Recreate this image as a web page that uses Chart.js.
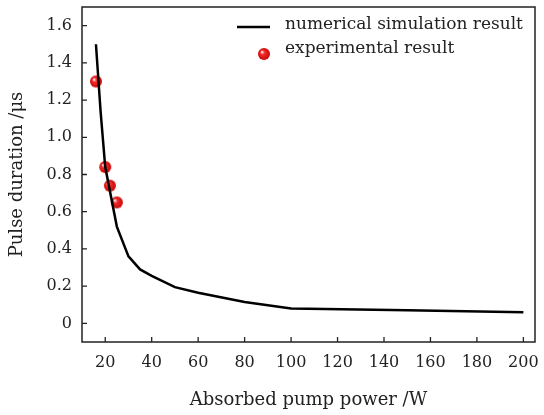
<!DOCTYPE html>
<html>
<head>
<meta charset="utf-8">
<script src="https://cdn.jsdelivr.net/npm/chart.js@4"></script>
<style>
  html, body { margin: 0; padding: 0; background: #fff; }
  #wrap { width: 544px; height: 415px; }
</style>
</head>
<body>
<div id="wrap"><canvas id="chart" width="544" height="415"></canvas></div>
<script>
// ---- data ----
const simPower = [16, 18, 20, 25, 30, 35, 40, 50, 60, 80, 100, 150, 200];
const simDuration = [1.50, 1.14, 0.84, 0.52, 0.36, 0.29, 0.255, 0.195, 0.165, 0.115, 0.08, 0.07, 0.06];
const expPower = [16, 20, 22, 25];
const expDuration = [1.30, 0.84, 0.74, 0.65];
const xTicks = [20, 40, 60, 80, 100, 120, 140, 160, 180, 200];
const yTicks = [0, 0.2, 0.4, 0.6, 0.8, 1.0, 1.2, 1.4, 1.6];
const seriesNames = ["numerical simulation result", "experimental result"];

const FONT = "'DejaVu Serif', serif";
const INK = "#222";

// shaded red ball used as point marker
function makeBall(r) {
  const c = document.createElement("canvas");
  c.width = c.height = r * 2 + 2;
  const g = c.getContext("2d");
  const cx = r + 1, cy = r + 1;
  const grad = g.createRadialGradient(cx - r * 0.35, cy - r * 0.35, r * 0.1, cx, cy, r);
  grad.addColorStop(0, "#ffd6d6");
  grad.addColorStop(0.3, "#f22a2a");
  grad.addColorStop(1, "#c80808");
  g.fillStyle = grad;
  g.beginPath();
  g.arc(cx, cy, r, 0, Math.PI * 2);
  g.fill();
  return c;
}
const ball = makeBall(6);

// frame box, inward ticks and legend
const framePlugin = {
  id: "frame",
  afterDraw(chart) {
    const { ctx, chartArea: a, scales } = chart;
    ctx.save();
    ctx.strokeStyle = INK;
    ctx.lineWidth = 1.5;
    ctx.strokeRect(a.left, a.top, a.right - a.left, a.bottom - a.top);
    ctx.lineWidth = 1.3;
    ctx.beginPath();
    xTicks.forEach(v => {
      const x = scales.x.getPixelForValue(v);
      ctx.moveTo(x, a.bottom);
      ctx.lineTo(x, a.bottom - 5);
    });
    yTicks.forEach(v => {
      const y = scales.y.getPixelForValue(v);
      ctx.moveTo(a.left, y);
      ctx.lineTo(a.left + 5, y);
    });
    ctx.stroke();

    // legend
    ctx.font = "17px " + FONT;
    ctx.fillStyle = INK;
    ctx.textBaseline = "middle";
    ctx.strokeStyle = "#000";
    ctx.lineWidth = 2.5;
    ctx.beginPath();
    ctx.moveTo(237, 27);
    ctx.lineTo(270, 27);
    ctx.stroke();
    ctx.fillText(seriesNames[0], 285, 25);
    ctx.drawImage(ball, 264 - 7, 54 - 7);
    ctx.fillText(seriesNames[1], 285, 49);
    ctx.restore();
  }
};

new Chart(document.getElementById("chart"), {
  type: "scatter",
  data: {
    datasets: [
      {
        label: seriesNames[0],
        data: simPower.map((p, i) => ({ x: p, y: simDuration[i] })),
        showLine: true,
        borderColor: "#000",
        borderWidth: 2.5,
        pointRadius: 0,
        tension: 0
      },
      {
        label: seriesNames[1],
        data: expPower.map((p, i) => ({ x: p, y: expDuration[i] })),
        showLine: false,
        pointStyle: ball,
        pointRadius: 6
      }
    ]
  },
  options: {
    responsive: false,
    animation: false,
    layout: { padding: { top: 7, right: 9, left: 0, bottom: 0 } },
    plugins: { legend: { display: false }, tooltip: { enabled: false } },
    scales: {
      x: {
        type: "linear",
        min: 10,
        max: 205,
        afterBuildTicks: s => { s.ticks = xTicks.map(v => ({ value: v })); },
        afterFit: s => { s.height = 73; s.paddingLeft = 0; s.paddingRight = 0; },
        grid: { display: false, drawTicks: false },
        border: { display: false },
        ticks: { color: INK, font: { family: FONT, size: 16 }, padding: 11, maxRotation: 0 },
        title: {
          display: true,
          text: "Absorbed pump power /W",
          color: INK,
          font: { family: FONT, size: 18 },
          padding: { top: 11 }
        }
      },
      y: {
        min: -0.1,
        max: 1.7,
        afterBuildTicks: s => { s.ticks = yTicks.map(v => ({ value: v })); },
        afterFit: s => { s.width = 82; s.paddingTop = 0; s.paddingBottom = 0; },
        grid: { display: false, drawTicks: false },
        border: { display: false },
        ticks: {
          color: INK,
          font: { family: FONT, size: 16 },
          padding: 10,
          callback: v => (v === 0 ? "0" : v.toFixed(1))
        },
        title: {
          display: true,
          text: "Pulse duration /μs",
          color: INK,
          font: { family: FONT, size: 18 },
          padding: { top: 7, bottom: 0 }
        }
      }
    }
  },
  plugins: [framePlugin]
});
</script>
</body>
</html>
